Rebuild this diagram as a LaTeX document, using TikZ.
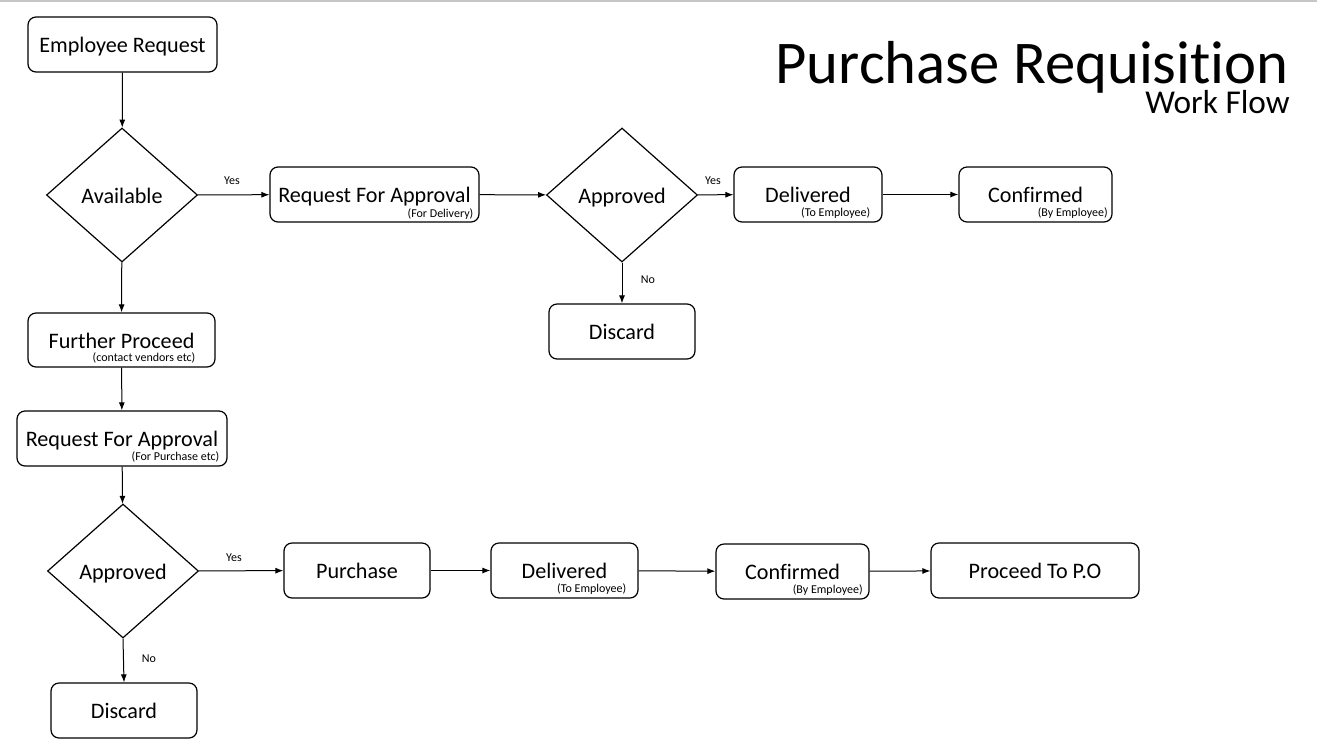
\documentclass[tikz,border=0pt]{standalone}
\usepackage{fontspec}
\setmainfont[Ligatures=NoCommon]{Carlito}
\usetikzlibrary{shapes.geometric,arrows.meta}
\begin{document}
\begin{tikzpicture}[x=0.75pt,y=-0.75pt,
  box/.style={draw=black,line width=0.9pt,rounded corners=6pt,minimum height=41.25pt,inner sep=0pt,text height=12pt,text depth=0pt,font=\fontsize{16.6}{19}\selectfont},
  dia/.style={draw=black,line width=0.9pt,diamond,minimum width=113.25pt,minimum height=100.5pt,inner sep=0pt,text height=12pt,text depth=0pt,font=\fontsize{16.6}{19}\selectfont},
  sub/.style={font=\fontsize{9}{11}\selectfont,inner sep=0pt,anchor=south east},
  lbl/.style={font=\fontsize{9}{11}\selectfont,inner sep=0pt},
  arr/.style={line width=0.75pt,-{Latex[length=6pt,width=4.5pt]}}]
\useasboundingbox (0,0) rectangle (1317,751);
\draw[gray!45,line width=1.5pt] (0,0.5) -- (1317,0.5);
% title
\node[font=\fontsize{45.5}{50}\selectfont,anchor=base east,inner sep=0pt,text depth=0pt] (title) at (1289,83) {Purchase Requisition};
\node[font=\fontsize{25}{28}\selectfont,anchor=base east,inner sep=0pt] (subtitle) at (1290,113) {Work Flow};
% nodes
\node[box,minimum width=141.75pt] (er) at (122.5,44.5) {Employee Request};
\node[dia] (avail) at (122,195) {Available};
\node[box,minimum width=156.75pt] (rfa1) at (374.5,194.5) {Request For Approval};
\node[sub] (rfa1s) at ([xshift=-4.5pt,yshift=2.5pt]rfa1.south east) {(For Delivery)};
\node[dia] (appr1) at (622,195) {Approved};
\node[box,minimum width=111pt] (del1) at (808,194.5) {Delivered};
\node[sub] (del1s) at ([xshift=-9pt,yshift=3pt]del1.south east) {(To Employee)};
\node[box,minimum width=114.75pt] (conf1) at (1035.5,194.5) {Confirmed};
\node[sub] (conf1s) at ([xshift=-3.5pt,yshift=3pt]conf1.south east) {(By Employee)};
\node[box,minimum width=109.5pt] (disc1) at (622,331.5) {Discard};
\node[box,minimum width=140.25pt,minimum height=40.5pt] (fp) at (121.5,340) {Further Proceed};
\node[sub] (fps) at ([xshift=-15pt,yshift=3pt]fp.south east) {(contact vendors etc)};
\node[box,minimum width=157.5pt] (rfa2) at (122,438.5) {Request For Approval};
\node[sub] (rfa2s) at ([xshift=-6pt,yshift=3pt]rfa2.south east) {(For Purchase etc)};
\node[dia] (appr2) at (123,571) {Approved};
\node[box,minimum width=109.5pt] (purch) at (357,570.5) {Purchase};
\node[box,minimum width=110.25pt] (del2) at (564.5,570.5) {Delivered};
\node[sub] (del2s) at ([xshift=-9pt,yshift=3pt]del2.south east) {(To Employee)};
\node[box,minimum width=114.75pt] (conf2) at (792.5,571.5) {Confirmed};
\node[sub] (conf2s) at ([xshift=-5pt,yshift=3pt]conf2.south east) {(By Employee)};
\node[box,minimum width=156pt] (po) at (1035,570.5) {Proceed To P.O};
\node[box,minimum width=109.5pt] (disc2) at (124,710.5) {Discard};
% connectors
\draw[arr] (er) -- (avail);
\draw[arr] (avail) -- (fp);
\draw[arr] (fp) -- (rfa2);
\draw[arr] (rfa2) -- (appr2);
\draw[arr] (appr2.south) -- (disc2.north);
\draw[arr] (avail) -- (rfa1);
\draw[arr] (rfa1) -- (appr1);
\draw[arr] (appr1) -- (del1);
\draw[arr] (del1) -- (conf1);
\draw[arr] (appr1) -- (disc1);
\draw[arr] (appr2) -- (purch);
\draw[arr] (purch) -- (del2);
\draw[arr] (del2) -- (conf2);
\draw[arr] (conf2) -- (po);
% labels
\node[lbl] (y1) at (232,181) {Yes};
\node[lbl] (y2) at (713,181) {Yes};
\node[lbl] (n1) at (648,280) {No};
\node[lbl] (y3) at (234,558) {Yes};
\node[lbl] (n2) at (149,659) {No};
\end{tikzpicture}
\end{document}
